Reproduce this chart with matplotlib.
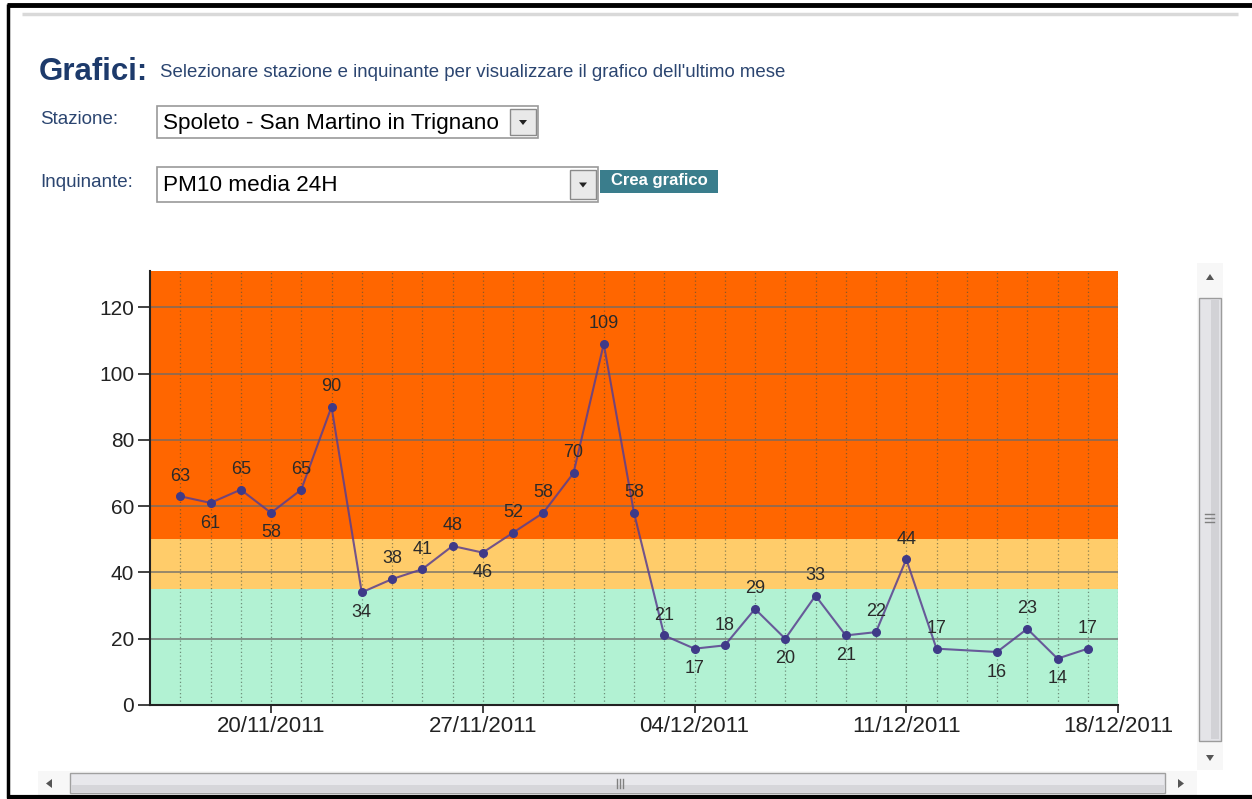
import matplotlib
matplotlib.use("Agg")
import matplotlib.pyplot as plt
import matplotlib.dates as mdates
from matplotlib.patches import Rectangle, Polygon
import numpy as np

plt.rcParams['font.family'] = ['Liberation Sans', 'DejaVu Sans']

# ---------------- data ----------------
dates = ['2011-11-17', '2011-11-18', '2011-11-19', '2011-11-20', '2011-11-21',
         '2011-11-22', '2011-11-23', '2011-11-24', '2011-11-25', '2011-11-26',
         '2011-11-27', '2011-11-28', '2011-11-29', '2011-11-30', '2011-12-01',
         '2011-12-02', '2011-12-03', '2011-12-04', '2011-12-05', '2011-12-06',
         '2011-12-07', '2011-12-08', '2011-12-09', '2011-12-10', '2011-12-11',
         '2011-12-12', '2011-12-14', '2011-12-15', '2011-12-16', '2011-12-17']
values = [63, 61, 65, 58, 65, 90, 34, 38, 41, 48, 46, 52, 58, 70, 109,
          58, 21, 17, 18, 29, 20, 33, 21, 22, 44, 17, 16, 23, 14, 17]
label_side = [1, -1, 1, -1, 1, 1, -1, 1, 1, 1, -1, 1, 1, 1, 1,
              1, 1, -1, 1, 1, -1, 1, -1, 1, 1, 1, -1, 1, -1, 1]
tick_dates = ['2011-11-20', '2011-11-27', '2011-12-04', '2011-12-11', '2011-12-18']
tick_labels = ['20/11/2011', '27/11/2011', '04/12/2011', '11/12/2011', '18/12/2011']
y_ticks = [0, 20, 40, 60, 80, 100, 120]
bands = [(0, 35, '#B2F2D3'), (35, 50, '#FFCC6A'), (50, 131, '#FF6600')]

title_bold = 'Grafici:'
title_text = "Selezionare stazione e inquinante per visualizzare il grafico dell'ultimo mese"
station_label = 'Stazione:'
station_value = 'Spoleto - San Martino in Trignano'
pollutant_label = 'Inquinante:'
pollutant_value = 'PM10 media 24H'
button_text = 'Crea grafico'

W, H = 1252, 799
fig = plt.figure(figsize=(W / 100, H / 100), dpi=100)
fig.patch.set_facecolor('white')

# ---------------- page background axes (pixel coords) ----------------
bg = fig.add_axes([0, 0, 1, 1])
bg.set_xlim(0, W)
bg.set_ylim(H, 0)
bg.axis('off')

# outer border
bg.plot([7, W], [5, 5], color='black', lw=3.5, solid_capstyle='butt')
bg.plot([7.5, 7.5], [4, 798], color='black', lw=2.5, solid_capstyle='butt')
bg.plot([7, W], [797, 797], color='black', lw=3, solid_capstyle='butt')
# grey separator
bg.plot([22, 1238], [13.5, 13.5], color='#d9d9d9', lw=2.5, solid_capstyle='butt')

# titles
bg.text(39, 80, title_bold, fontsize=22.5, fontweight='bold', color='#1d3a6b', va='baseline')
bg.text(160, 77, title_text, fontsize=13.4, color='#2b4570', va='baseline')
bg.text(40, 124, station_label, fontsize=13.5, color='#2b4570', va='baseline')
bg.text(40, 187, pollutant_label, fontsize=13.5, color='#2b4570', va='baseline')


def dropdown(x0, y0, x1, y1, text):
    bg.add_patch(Rectangle((x0, y0), x1 - x0, y1 - y0, facecolor='white',
                           edgecolor='#9a9a9a', lw=1.2))
    bg.text(x0 + 6, (y0 + y1) / 2 + 1, text, fontsize=16.2, color='black', va='center')
    bx0 = x1 - 30
    bg.add_patch(Rectangle((bx0 + 2, y0 + 3), 26, (y1 - y0) - 6, facecolor='#e9e9e9',
                           edgecolor='#8a8a8a', lw=1))
    cx, cy = bx0 + 15, (y0 + y1) / 2
    bg.add_patch(Polygon([[cx - 4, cy - 2], [cx + 4, cy - 2], [cx, cy + 3]],
                         closed=True, facecolor='#222222', edgecolor='none'))


dropdown(157, 106, 538, 138, station_value)
dropdown(157, 167, 598, 202, pollutant_value)

# Crea grafico button
bg.add_patch(Rectangle((600, 170), 118, 23, facecolor='#3a7d8c', edgecolor='none'))
bg.text(659, 181, button_text, fontsize=12, fontweight='bold', color='white',
        ha='center', va='center')

# vertical scrollbar
bg.add_patch(Rectangle((1197, 263), 26, 507, facecolor='#f7f7f7', edgecolor='none'))
bg.add_patch(Rectangle((1199, 298), 22, 443, facecolor='#e4e4e8', edgecolor='#9c9c9c', lw=1))
bg.add_patch(Rectangle((1211, 300), 8, 439, facecolor='#d2d2d6', edgecolor='none'))
for yy in (514, 518, 522):
    bg.plot([1205, 1214], [yy, yy], color='#808080', lw=1)
bg.add_patch(Polygon([[1206, 280], [1214, 280], [1210, 274]], closed=True,
                     facecolor='#555555', edgecolor='none'))
bg.add_patch(Polygon([[1206, 755], [1214, 755], [1210, 761]], closed=True,
                     facecolor='#555555', edgecolor='none'))

# horizontal scrollbar
bg.add_patch(Rectangle((38, 771), 1159, 24, facecolor='#f7f7f7', edgecolor='none'))
bg.add_patch(Rectangle((70, 773), 1095, 20, facecolor='#e8e8ec', edgecolor='#a0a0a0', lw=1))
bg.add_patch(Rectangle((71, 785), 1093, 7, facecolor='#d6d6da', edgecolor='none'))
for xx in (617, 620, 623):
    bg.plot([xx, xx], [779, 788], color='#808080', lw=1)
bg.add_patch(Polygon([[52, 779], [52, 788], [46, 783.5]], closed=True,
                     facecolor='#555555', edgecolor='none'))
bg.add_patch(Polygon([[1178, 779], [1178, 788], [1184, 783.5]], closed=True,
                     facecolor='#555555', edgecolor='none'))

# ---------------- chart axes ----------------
left, right, top, bottom = 150, 1118, 271, 705
ax = fig.add_axes([left / W, 1 - bottom / H, (right - left) / W, (bottom - top) / H])

x = mdates.datestr2num(dates)
y = np.array(values)
x0 = mdates.datestr2num('2011-11-16')
x1 = mdates.datestr2num('2011-12-18')

ax.set_xlim(x0, x1)
ax.set_ylim(0, 131)

for lo, hi, c in bands:
    ax.axhspan(lo, hi, facecolor=c, edgecolor='none', zorder=0)

# daily vertical dotted grid
for d in np.arange(x0 + 1, x1 + 1):
    ax.axvline(d, color='#3f4f3f', lw=0.9, ls=(0, (1, 2)), alpha=0.6, zorder=1)
# horizontal grid
for t in y_ticks[1:]:
    ax.axhline(t, color='#6b6b6b', lw=1.4, alpha=0.7, zorder=1)

ax.plot(x, y, color='#5a3f8f', lw=1.5, alpha=0.85, zorder=3)
ax.plot(x, y, ls='none', marker='o', ms=5.5, mfc='#3f3a88', mec='#3f3a88', zorder=4)

for xi, yi, s in zip(x, y, label_side):
    ax.annotate(str(yi), (xi, yi), xytext=(0, 14.5 * s), textcoords='offset points',
                ha='center', va='center', fontsize=13, color='#2a2a2a', zorder=5)

ax.set_yticks(y_ticks)
ax.set_yticklabels([str(v) for v in y_ticks])
ax.set_xticks(mdates.datestr2num(tick_dates))
ax.set_xticklabels(tick_labels)
ax.tick_params(axis='y', labelsize=15, colors='#222222', length=8.5, width=1.2, pad=3)
ax.tick_params(axis='x', labelsize=16, colors='#222222', length=6, width=1.2, pad=2)
for sp in ('top', 'right'):
    ax.spines[sp].set_visible(False)
for sp in ('left', 'bottom'):
    ax.spines[sp].set_color('#222222')
    ax.spines[sp].set_linewidth(1.5)

fig.savefig('out.png', dpi=100, facecolor='white')
